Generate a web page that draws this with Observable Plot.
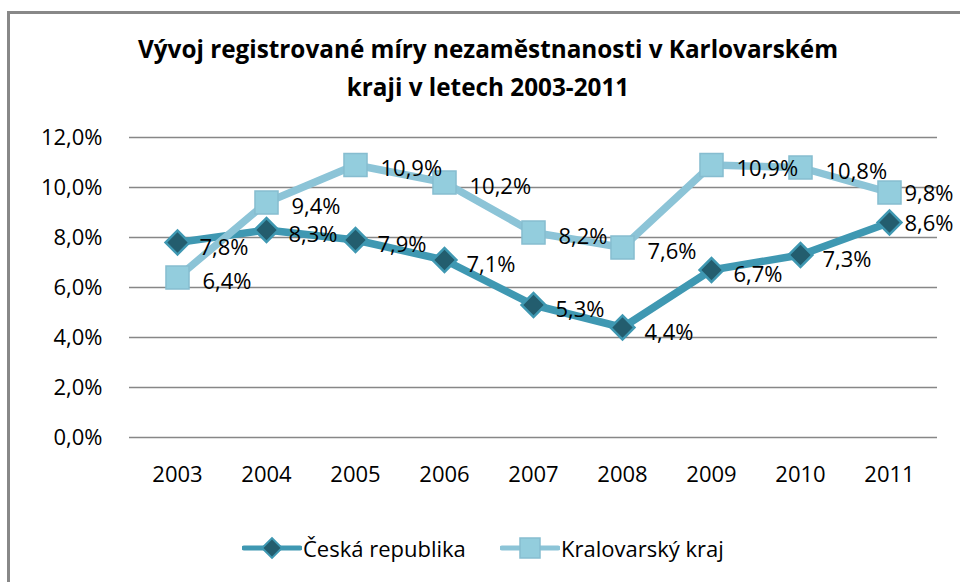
<!DOCTYPE html>
<html>
<head>
<meta charset="utf-8">
<script src="https://cdn.jsdelivr.net/npm/d3@7"></script>
<script src="https://cdn.jsdelivr.net/npm/@observablehq/plot@0.6"></script>
<style>
  html, body { margin: 0; padding: 0; background: #fff; }
  body { width: 960px; height: 582px; position: relative; overflow: hidden; font-family: "Open Sans", sans-serif; }
  #frame { position: absolute; left: 7px; top: 11px; width: 1000px; height: 620px; border-left: 3px solid #888; border-top: 3px solid #888; box-sizing: border-box; }
  #title { position: absolute; left: 8px; width: 960px; top: 30px; text-align: center; font-weight: 700; font-size: 24.3px; line-height: 38px; color: #000; }
  #chart { position: absolute; left: 0; top: 110px; }
  #legend { position: absolute; top: 532px; left: 0; width: 960px; height: 32px; font-size: 22px; color: #000; }
  .item { position: absolute; top: 0; display: flex; align-items: center; height: 32px; }
  .item svg { display: block; }
</style>
</head>
<body>
<div id="frame"></div>
<div id="title">Vývoj registrované míry nezaměstnanosti v Karlovarském<br>kraji v letech 2003-2011</div>
<div id="chart"></div>
<div id="legend"></div>
<script>
const years = ["2003","2004","2005","2006","2007","2008","2009","2010","2011"];
const ceskaRepublika = [7.8, 8.3, 7.9, 7.1, 5.3, 4.4, 6.7, 7.3, 8.6];
const karlovarskyKraj = [6.4, 9.4, 10.9, 10.2, 8.2, 7.6, 10.9, 10.8, 9.8];
const seriesNames = ["Česká republika", "Kralovarský kraj"];
const yTicks = [0, 2, 4, 6, 8, 10, 12];

const cz = years.map((y, i) => ({year: y, value: ceskaRepublika[i]}));
const kv = years.map((y, i) => ({year: y, value: karlovarskyKraj[i]}));
const fmt = v => v.toFixed(1).replace(".", ",") + "%";
const lastYear = years[years.length - 1];
const notLast = d => d.year !== lastYear;
const isLast = d => d.year === lastYear;

const darkLine = "#3f98b2", darkFill = "#235d6e";
const lightLine = "#8cc4d7", lightFill = "#93cddd", lightStroke = "#86bdd0";

const chart = Plot.plot({
  width: 960,
  height: 400,
  marginLeft: 129,
  marginRight: 23,
  marginTop: 27,
  marginBottom: 73,
  style: {fontFamily: "Open Sans, sans-serif", fontSize: "22px", color: "#000", background: "transparent", overflow: "visible"},
  x: {type: "point", domain: years, padding: 0.5, label: null},
  y: {domain: [0, 12], label: null},
  marks: [
    Plot.ruleY(yTicks, {stroke: "#878787", strokeWidth: 1.5}),
    Plot.axisY({ticks: yTicks, tickSize: 0, tickPadding: 27, tickFormat: fmt, fontSize: 22}),
    Plot.axisX({tickSize: 0, tickPadding: 29, fontSize: 22}),
    Plot.line(cz, {x: "year", y: "value", stroke: darkLine, strokeWidth: 7.5, strokeLinejoin: "round"}),
    Plot.dot(cz, {x: "year", y: "value", symbol: "square", r: 9.5, rotate: 45, fill: darkFill, stroke: darkLine, strokeWidth: 2.5}),
    Plot.line(kv, {x: "year", y: "value", stroke: lightLine, strokeWidth: 7.5, strokeLinejoin: "round"}),
    Plot.dot(kv, {x: "year", y: "value", symbol: "square", r: 13, fill: lightFill, stroke: lightStroke, strokeWidth: 1.5}),
    Plot.text(kv, {filter: notLast, x: "year", y: "value", text: d => fmt(d.value), textAnchor: "start", dx: 25, dy: 4, fill: "#000", fontSize: 22}),
    Plot.text(cz, {filter: notLast, x: "year", y: "value", text: d => fmt(d.value), textAnchor: "start", dx: 22, dy: 5, fill: "#000", fontSize: 22}),
    Plot.text(kv, {filter: isLast, x: "year", y: "value", text: d => fmt(d.value), textAnchor: "start", dx: 15, dy: 1, fill: "#000", fontSize: 22}),
    Plot.text(cz, {filter: isLast, x: "year", y: "value", text: d => fmt(d.value), textAnchor: "start", dx: 15, dy: 1, fill: "#000", fontSize: 22})
  ]
});
document.getElementById("chart").appendChild(chart);

// Legend
const legend = document.getElementById("legend");
const items = [
  {name: seriesNames[0], left: 242, line: darkLine, kind: "diamond"},
  {name: seriesNames[1], left: 500, line: lightLine, kind: "square"}
];
for (const it of items) {
  const div = document.createElement("div");
  div.className = "item";
  div.style.left = it.left + "px";
  const ns = "http://www.w3.org/2000/svg";
  const svg = document.createElementNS(ns, "svg");
  svg.setAttribute("width", 60); svg.setAttribute("height", 32);
  const ln = document.createElementNS(ns, "line");
  ln.setAttribute("x1", 2); ln.setAttribute("x2", 58); ln.setAttribute("y1", 16); ln.setAttribute("y2", 16);
  ln.setAttribute("stroke", it.line); ln.setAttribute("stroke-width", 5); ln.setAttribute("stroke-linecap", "round");
  svg.appendChild(ln);
  const m = document.createElementNS(ns, "rect");
  if (it.kind === "diamond") {
    m.setAttribute("x", 23); m.setAttribute("y", 9); m.setAttribute("width", 14); m.setAttribute("height", 14);
    m.setAttribute("transform", "rotate(45 30 16)");
    m.setAttribute("fill", darkFill); m.setAttribute("stroke", darkLine); m.setAttribute("stroke-width", 2);
  } else {
    m.setAttribute("x", 20); m.setAttribute("y", 6); m.setAttribute("width", 20); m.setAttribute("height", 20);
    m.setAttribute("fill", lightFill); m.setAttribute("stroke", lightStroke); m.setAttribute("stroke-width", 1.5);
  }
  svg.appendChild(m);
  div.appendChild(svg);
  const span = document.createElement("span");
  span.textContent = it.name;
  span.style.marginLeft = "1px";
  div.appendChild(span);
  legend.appendChild(div);
}
</script>
</body>
</html>
